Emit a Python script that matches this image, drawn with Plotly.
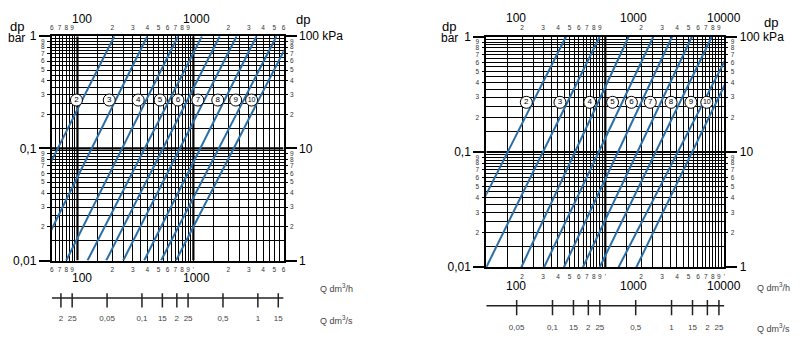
import math
import plotly.graph_objects as go

W, H = 800, 354

# ---------------- data ----------------
line_labels = ["2", "3", "4", "5", "6", "7", "8", "9", "10"]

# left diagram: flow Q (dm3/h) where each curve meets dp = 1 bar and dp = 0.01 bar
left_q_top = [208, 400, 736, 1184, 1686, 2358, 3500, 5210, 7000]
left_q_bottom = [22, 44, 80, 122, 177, 248, 376, 526, 708]
left_label_q = [98, 188, 334, 516, 736, 1093, 1623, 2317, 3178]

# right diagram
right_q_top = [467, 896, 1570, 2529, 3635, 5335, 7837, 12800, 15800]
right_q_bottom = [49, 100, 197, 306, 449, 648, 896, 1291, 1822]
right_label_q = [217, 416, 740, 1151, 1656, 2385, 3568, 5237, 7120]

label_dp = 0.27
dp_top, dp_bottom = 1, 0.01

left_q_range = [60, 6000]
right_q_range = [100, 10000]
dp_range = [0.01, 1]

left_ls_vals = [0.02, 0.025, 0.05, 0.1, 0.15, 0.2, 0.25, 0.5, 1, 1.5]
left_ls_text = ["2", "25", "0,05", "0,1", "15", "2", "25", "0,5", "1", "15"]
right_ls_vals = [0.05, 0.1, 0.15, 0.2, 0.25, 0.5, 1, 1.5, 2, 2.5]
right_ls_text = ["0,05", "0,1", "15", "2", "25", "0,5", "1", "15", "2", "25"]

left_marked_decades = [1000]
right_marked_decades = [1000, 10000]

dp_decades = [0.01, 0.1, 1]
dp_bar_text = ["0,01", "0,1", "1"]
dp_kpa_text = ["1", "10", "100 kPa"]

FONT = "Liberation Sans, Arial, Helvetica, sans-serif"
BLUE = "#2b6ea6"
SMALL = dict(family=FONT, size=6.5, color="#333")
BIG = dict(family=FONT, size=12, color="black")


def px2x(px):
    return px / W


def px2y(py):
    return 1 - py / H


def int_vals(lo, hi):
    out = []
    for e in range(-3, 6):
        for m in range(1, 10):
            v = round(m * 10 ** e, 6)
            if lo * 0.999 <= v <= hi * 1.001:
                out.append((v, m))
    return out


def half_vals(lo, hi):
    out = []
    for e in range(-3, 6):
        for k in range(1, 10):
            v = round((k + 0.5) * 10 ** e, 6)
            if lo < v < hi:
                out.append(v)
    return out


def lg(v):
    return math.log10(v)


fig = go.Figure()
layout = dict(
    width=W, height=H, autosize=False,
    margin=dict(l=0, r=0, t=0, b=0),
    paper_bgcolor="white", plot_bgcolor="white",
    showlegend=False, font=dict(family=FONT),
)
annotations = []


def key(a):
    return a[0] + "axis" + a[1:]


def build(names, q_range, xdom_px, ydom_px, q_top, q_bottom, label_q,
          ls_vals, ls_text, band_px, band_y, marked_decades):
    X, XT, XB, Y, YL, YR, YRD, YB = names

    xdom = [px2x(xdom_px[0]), px2x(xdom_px[1])]
    ydom = [px2y(ydom_px[1]), px2y(ydom_px[0])]
    xr = [lg(q_range[0]), lg(q_range[1])]
    yrng = [lg(dp_range[0]), lg(dp_range[1])]

    xints = int_vals(*q_range)
    yints = int_vals(*dp_range)
    x_minor_ints = [(v, m) for v, m in xints if m != 1]
    y_minor_ints = [(v, m) for v, m in yints if m != 1]

    grid_common = dict(type="log", showgrid=True, gridcolor="black", gridwidth=1,
                       zeroline=False, showline=True, mirror=True,
                       linecolor="black", linewidth=1.5, tickangle=0)

    bvals = [v for v, _ in x_minor_ints] + marked_decades
    btext = [str(m) for _, m in x_minor_ints] + ["'"] * len(marked_decades)

    layout[key(X)] = dict(
        grid_common, domain=xdom, range=xr, anchor=Y,
        tickmode="array", tickvals=bvals, ticktext=btext,
        ticks="", tickfont=SMALL, ticklabelstandoff=2,
        minor=dict(tickmode="array", tickvals=half_vals(*q_range), showgrid=True,
                   gridcolor="black", gridwidth=0.8, ticks=""),
    )
    layout[key(XT)] = dict(
        type="log", overlaying=X, side="top", anchor=Y, range=xr, tickangle=0,
        tickmode="array", tickvals=[v for v, _ in x_minor_ints],
        ticktext=[str(m) for _, m in x_minor_ints],
        ticks="", tickfont=SMALL, showgrid=False, zeroline=False, showline=False,
        ticklabelstandoff=4,
    )
    layout[key(Y)] = dict(
        grid_common, domain=ydom, range=yrng, anchor=X,
        tickmode="array", tickvals=[v for v, _ in y_minor_ints],
        ticktext=[str(m) for _, m in y_minor_ints],
        ticks="outside", ticklen=3, tickwidth=1, tickcolor="black", tickfont=SMALL,
        ticklabelstandoff=1,
        minor=dict(tickmode="array", tickvals=half_vals(*dp_range), showgrid=True,
                   gridcolor="black", gridwidth=0.8, ticks=""),
    )
    layout[key(YL)] = dict(
        type="log", overlaying=Y, side="left", anchor=X, range=yrng, tickangle=0,
        tickmode="array", tickvals=dp_decades, ticktext=dp_bar_text,
        ticks="outside", ticklen=12, tickwidth=1.5, tickcolor="black",
        tickfont=BIG, showgrid=False, zeroline=False, showline=False,
    )
    layout[key(YR)] = dict(
        type="log", overlaying=Y, side="right", anchor=X, range=yrng, tickangle=0,
        tickmode="array", tickvals=[v for v, _ in y_minor_ints],
        ticktext=[str(m) for _, m in y_minor_ints],
        ticks="outside", ticklen=3, tickwidth=1, tickcolor="black",
        tickfont=SMALL, showgrid=False, zeroline=False, showline=False,
        ticklabelstandoff=1,
    )
    layout[key(YRD)] = dict(
        type="log", overlaying=Y, side="right", anchor=X, range=yrng, tickangle=0,
        tickmode="array", tickvals=dp_decades, ticktext=dp_kpa_text,
        ticks="outside", ticklen=12, tickwidth=1.5, tickcolor="black",
        tickfont=BIG, showgrid=False, zeroline=False, showline=False,
    )
    # flow band in dm3/s
    ls_range = [q_range[0] / 3600, q_range[1] / 3600]
    layout[key(XB)] = dict(type="log", domain=xdom, anchor=YB,
                           range=[lg(ls_range[0]), lg(ls_range[1])], visible=False)
    layout[key(YB)] = dict(domain=[px2y(band_px[1]), px2y(band_px[0])], anchor=XB,
                           range=[band_px[1] - band_px[0], 0], visible=False)

    # dummy traces so every overlay axis is drawn
    for xa, ya in [(XT, Y), (X, YL), (X, YR), (X, YRD)]:
        fig.add_trace(go.Scatter(x=[q_range[0] * 2], y=[0.1], xaxis=xa, yaxis=ya,
                                 mode="markers", marker=dict(opacity=0),
                                 hoverinfo="skip", showlegend=False))

    # decade lines (thicker)
    dx, dy = [], []
    for v, m in xints:
        if m == 1 and v not in q_range:
            dx += [v, v, None]
            dy += [dp_range[0], dp_range[1], None]
    for v in dp_decades[1:-1]:
        dx += [q_range[0], q_range[1], None]
        dy += [v, v, None]
    fig.add_trace(go.Scatter(x=dx, y=dy, xaxis=X, yaxis=Y, mode="lines",
                             line=dict(color="black", width=2.2),
                             hoverinfo="skip", showlegend=False))

    # characteristic lines
    for qt, qb in zip(q_top, q_bottom):
        fig.add_trace(go.Scatter(x=[qt, qb], y=[dp_top, dp_bottom], xaxis=X, yaxis=Y,
                                 mode="lines", line=dict(color=BLUE, width=2),
                                 hoverinfo="skip", showlegend=False))
    # circled labels
    fig.add_trace(go.Scatter(
        x=label_q, y=[label_dp] * len(label_q), xaxis=X, yaxis=Y,
        mode="markers+text", text=line_labels, textposition="middle center",
        textfont=dict(family=FONT, size=[8] * 8 + [7], color="black"),
        marker=dict(size=12, color="white", line=dict(color="black", width=1)),
        hoverinfo="skip", showlegend=False))

    # dm3/s band
    base, t0, t1, ly = band_y
    fig.add_trace(go.Scatter(x=ls_range, y=[base, base], xaxis=XB, yaxis=YB,
                             mode="lines", line=dict(color="#222", width=1.5),
                             hoverinfo="skip", showlegend=False))
    tx, ty = [], []
    for v in ls_vals:
        tx += [v, v, None]
        ty += [t0, t1, None]
    fig.add_trace(go.Scatter(x=tx, y=ty, xaxis=XB, yaxis=YB, mode="lines",
                             line=dict(color="#222", width=1.5),
                             hoverinfo="skip", showlegend=False))
    fig.add_trace(go.Scatter(x=ls_vals, y=[ly] * len(ls_vals), xaxis=XB, yaxis=YB,
                             mode="text", text=ls_text, cliponaxis=False,
                             textfont=dict(family=FONT, size=8, color="#444"),
                             hoverinfo="skip", showlegend=False))


build(["x", "x3", "x5", "y", "y3", "y5", "y7", "y9"], left_q_range,
      (50, 283), (30.5, 264), left_q_top, left_q_bottom, left_label_q,
      left_ls_vals, left_ls_text, (295, 335), (8, 3, 18, 30), left_marked_decades)
build(["x2", "x4", "x6", "y2", "y4", "y6", "y8", "y10"], right_q_range,
      (486.7, 726), (31, 271), right_q_top, right_q_bottom, right_label_q,
      right_ls_vals, right_ls_text, (300, 340), (11, 5, 21, 34), right_marked_decades)


def ann(text, px, py, size=12, xanchor="center", color="black"):
    annotations.append(dict(text=text, x=px2x(px), y=px2y(py), xref="paper", yref="paper",
                            xanchor=xanchor, yanchor="middle", showarrow=False,
                            font=dict(family=FONT, size=size, color=color)))


# big decade labels for Q (dm3/h)
for t, px in zip(["100", "1000"], [80, 195]):
    ann(t, px, 12)
    ann(t, px, 282)
for t, px in zip(["100", "1000", "10000"], [517, 635, 726]):
    ann(t, px, 11.5)
    ann(t, px, 290)

# dp titles
ann("dp", 15, 20, 13)
ann("bar", 14.5, 32.5, 12)
ann("dp", 303, 12.5, 13)
ann("dp", 449, 20, 13)
ann("bar", 450, 32.5, 12)
ann("dp", 773, 16, 13)

# flow units
ann("Q dm<sup>3</sup>/h", 318, 293, 9, "left", "#444")
ann("Q dm<sup>3</sup>/s", 318, 326, 9, "left", "#444")
ann("Q dm<sup>3</sup>/h", 757, 292, 9, "left", "#444")
ann("Q dm<sup>3</sup>/s", 757, 334, 9, "left", "#444")

layout["annotations"] = annotations
fig.update_layout(**layout)
fig.write_html("out.html")
